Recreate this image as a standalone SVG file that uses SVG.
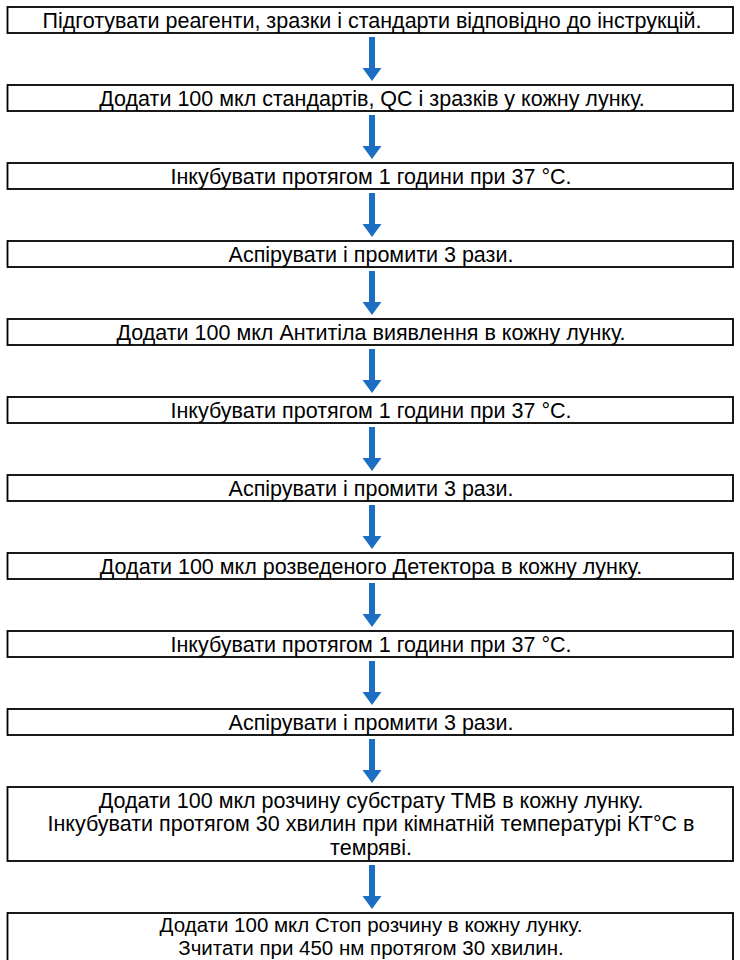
<svg xmlns="http://www.w3.org/2000/svg" width="740" height="960" viewBox="0 0 740 960">
<defs>
<style>
.box{fill:#ffffff;stroke:#000000;stroke-width:1.8}
.t{font-family:"Liberation Sans",Arial,sans-serif;font-size:21.5px;fill:#000000;text-anchor:middle}
.s{font-size:20.5px}
.arr{fill:#1b6ec2}
</style>
<g id="arrowShape"><rect class="arr" x="369" y="0" width="6" height="32"/><polygon class="arr" points="362.5,31 381.5,31 372,44"/></g>
</defs>
<rect x="0" y="0" width="740" height="960" fill="#ffffff"/>
<g id="connectors">
<use href="#arrowShape" y="37"/>
<use href="#arrowShape" y="115"/>
<use href="#arrowShape" y="193"/>
<use href="#arrowShape" y="271"/>
<use href="#arrowShape" y="349"/>
<use href="#arrowShape" y="427"/>
<use href="#arrowShape" y="505"/>
<use href="#arrowShape" y="583"/>
<use href="#arrowShape" y="661"/>
<use href="#arrowShape" y="739"/>
<use href="#arrowShape" y="865"/>
</g>
<g id="n1"><rect class="box" x="7.5" y="7" width="725.5" height="26"/><text class="t" x="372" y="27.5">Підготувати реагенти, зразки і стандарти відповідно до інструкцій.</text></g>
<g id="n2"><rect class="box" x="7.5" y="85" width="725.5" height="26"/><text class="t" x="372" y="105.5">Додати 100 мкл стандартів, QC і зразків у кожну лунку.</text></g>
<g id="n3"><rect class="box" x="7.5" y="163" width="725.5" height="26"/><text class="t" x="371" y="183.5">Інкубувати протягом 1 години при 37 °C.</text></g>
<g id="n4"><rect class="box" x="7.5" y="241" width="725.5" height="26"/><text class="t" x="371" y="261.5">Аспірувати і промити 3 рази.</text></g>
<g id="n5"><rect class="box" x="7.5" y="319" width="725.5" height="26"/><text class="t" x="371" y="339.5">Додати 100 мкл Антитіла виявлення в кожну лунку.</text></g>
<g id="n6"><rect class="box" x="7.5" y="397" width="725.5" height="26"/><text class="t" x="371" y="417.5">Інкубувати протягом 1 години при 37 °C.</text></g>
<g id="n7"><rect class="box" x="7.5" y="475" width="725.5" height="26"/><text class="t" x="371" y="495.5">Аспірувати і промити 3 рази.</text></g>
<g id="n8"><rect class="box" x="7.5" y="553" width="725.5" height="26"/><text class="t" x="371" y="573.5">Додати 100 мкл розведеного Детектора в кожну лунку.</text></g>
<g id="n9"><rect class="box" x="7.5" y="631" width="725.5" height="26"/><text class="t" x="371" y="651.5">Інкубувати протягом 1 години при 37 °C.</text></g>
<g id="n10"><rect class="box" x="7.5" y="709" width="725.5" height="26"/><text class="t" x="371" y="729.5">Аспірувати і промити 3 рази.</text></g>
<g id="n11"><rect class="box" x="7.5" y="787" width="725.5" height="74"/><text class="t" x="371" y="807.5">Додати 100 мкл розчину субстрату TMB в кожну лунку.</text><text class="t" x="371" y="831">Інкубувати протягом 30 хвилин при кімнатній температурі КТ°C в</text><text class="t" x="371" y="854.5">темряві.</text></g>
<g id="n12"><rect class="box" x="7.5" y="913" width="725.5" height="70"/><text class="t s" x="371" y="931.5">Додати 100 мкл Стоп розчину в кожну лунку.</text><text class="t s" x="371" y="955">Зчитати при 450 нм протягом 30 хвилин.</text></g>
</svg>
